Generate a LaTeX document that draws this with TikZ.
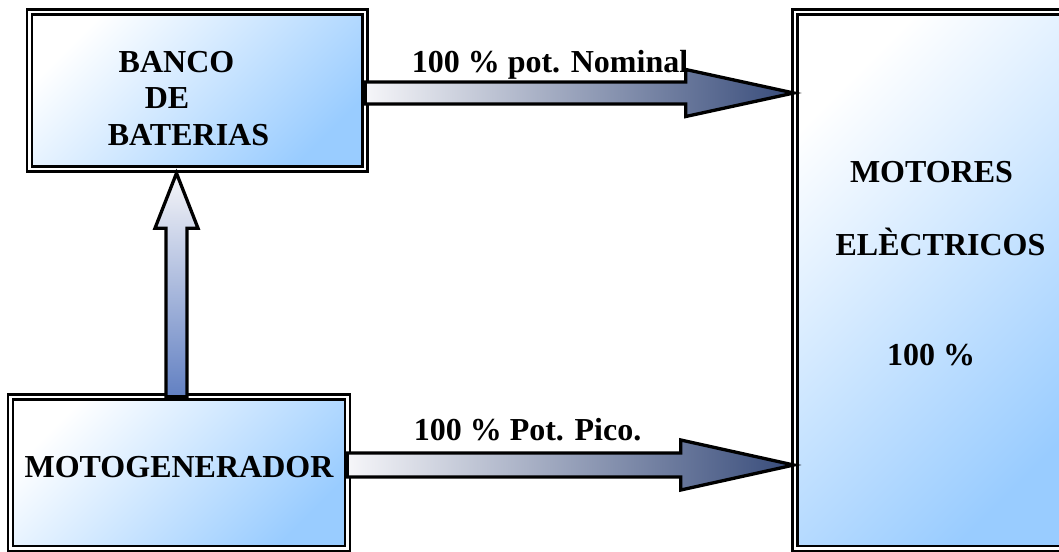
\documentclass[tikz,border=0pt]{standalone}
\usepackage{fontspec}
\setmainfont{Liberation Serif}
\usetikzlibrary{calc}
\definecolor{cajaazul}{RGB}{153,204,255}
\definecolor{flechaosc}{RGB}{55,75,122}
\definecolor{flechaclr}{RGB}{246,246,249}
\definecolor{flechaazul}{RGB}{98,128,194}
\tikzset{caja/.style={draw,double,line width=2.4pt,double distance=2.8pt,inner sep=0pt,top color=white,bottom color=cajaazul,shading angle=45},txt/.style={anchor=base,inner sep=0pt,font=\bfseries\fontsize{32}{36}\selectfont}}
\tikzset{flh/.style={draw,line width=3.3pt,left color=flechaclr,right color=flechaosc},flv/.style={draw,line width=3.3pt,top color=flechaclr,bottom color=flechaazul}}

\begin{document}
\begin{tikzpicture}[x=1pt,y=-1pt]
\path[use as bounding box] (0,0) rectangle (1059,551);
\clip (0,0) rectangle (1059,551);
\node[caja,minimum width=335.3,minimum height=157] (banco) at (197.3,90.5) {};
\node[caja,minimum width=280,minimum height=536.5] (motores) at (935,280.25) {};
\node[caja,minimum width=337,minimum height=151.5] (motogen) at (179,472.75) {};
\node[txt] (banco1) at (176.5,72) {BANCO};
\node[txt] (banco2) at (167,108) {DE};
\node[txt] (banco3) at (188.5,145) {BATERIAS};
\node[txt] (mot1) at (931.5,182) {MOTORES};
\node[txt] (mot2) at (940.5,255) {ELÈCTRICOS};
\node[txt] (mot3) at (931,365) {100 \%};
\node[txt] (gen) at (179,477) {MOTOGENERADOR};
\coordinate (t1) at ($(banco.east)+(-1,2.5)$);
\coordinate (p1) at ($(motores.west |- t1)+(0,0)$);
\coordinate (t2) at ($(motogen.east)+(-1.5,-7.75)$);
\coordinate (p2) at ($(motores.west |- t2)+(0,0)$);
\coordinate (t3) at ($(motogen.north)+(-2.5,1)$);
\coordinate (p3) at ($(t3 |- banco.south)+(0,3)$);
\draw[flh] ($(t1)+(0,-11)$) -- ($(p1)+(-108,-11)$) -- ($(p1)+(-108,-23.5)$) -- (p1)
      -- ($(p1)+(-108,23.5)$) -- ($(p1)+(-108,11)$) -- ($(t1)+(0,11)$) -- cycle;
\draw[flh] ($(t2)+(0,-12)$) -- ($(p2)+(-113,-12)$) -- ($(p2)+(-113,-25)$) -- (p2)
      -- ($(p2)+(-113,25)$) -- ($(p2)+(-113,12)$) -- ($(t2)+(0,12)$) -- cycle;
\draw[flv] ($(t3)+(-10.5,0)$) -- ($(p3)+(-10.5,55)$) -- ($(p3)+(-21.5,55)$) -- (p3)
      -- ($(p3)+(21.5,55)$) -- ($(p3)+(10.5,55)$) -- ($(t3)+(10.5,0)$) -- cycle;
\node[txt] (nom) at (550,72) {100 \% pot. Nominal};
\node[txt] (pico) at (527.5,440) {100 \% Pot. Pico.};
\end{tikzpicture}
\end{document}
